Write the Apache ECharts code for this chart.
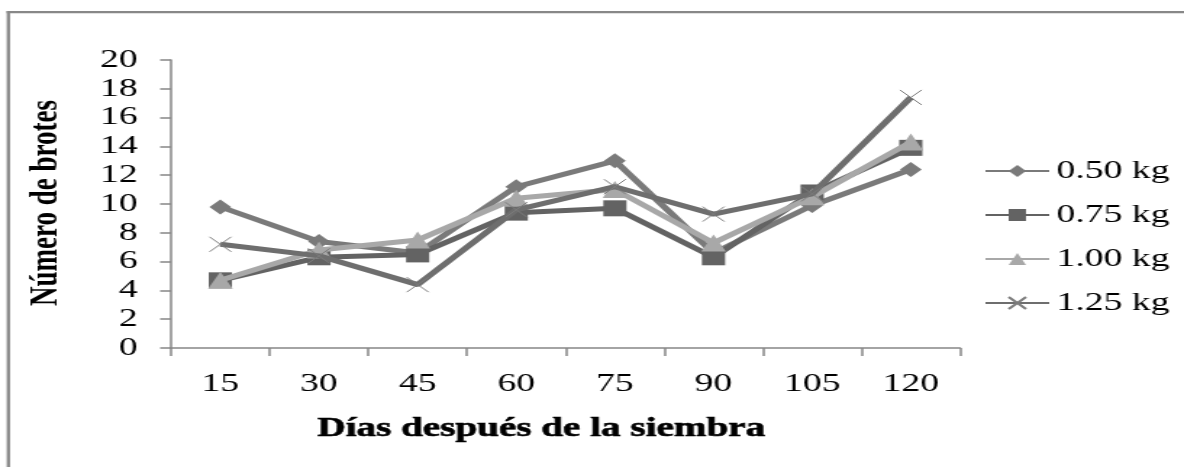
<!DOCTYPE html>
<html>
<head>
<meta charset="utf-8">
<script src="https://cdn.jsdelivr.net/npm/echarts@6/dist/echarts.min.js"></script>
<style>
html,body{margin:0;padding:0;background:#fff;overflow:hidden;}
#wrap{width:1184px;height:467px;overflow:hidden;position:relative;}
#c{width:817px;height:467px;transform:scaleX(1.4492);transform-origin:0 0;position:absolute;left:0;top:0;}
</style>
</head>
<body>
<div id="wrap"><div id="c"></div></div>
<script>
var categories = ['15', '30', '45', '60', '75', '90', '105', '120'];
var seriesNames = ['0.50 kg', '0.75 kg', '1.00 kg', '1.25 kg'];
var s050 = [9.8, 7.4, 6.6, 11.2, 13.0, 6.6, 9.9, 12.4];
var s075 = [4.7, 6.3, 6.5, 9.4, 9.7, 6.3, 10.8, 13.9];
var s100 = [4.7, 6.8, 7.5, 10.4, 11.0, 7.3, 10.5, 14.3];
var s125 = [7.2, 6.4, 4.4, 9.6, 11.2, 9.3, 10.7, 17.4];
var xTitle = 'Días después de la siembra';
var yTitle = 'Número de brotes';

var colors = ['#7a7a7a', '#636363', '#a8a8a8', '#6e6e6e'];
var symbols = ['diamond', 'rect', 'triangle', 'path://M0,0L10,10M0,10L10,0'];
var sizes = [15, 16, 17, 15];
var dataSets = [s050, s075, s100, s125];

var chart = echarts.init(document.getElementById('c'), null, {renderer: 'canvas'});
var series = dataSets.map(function (d, i) {
  var isX = i === 3;
  return {
    name: seriesNames[i],
    type: 'line',
    data: d,
    symbol: symbols[i],
    symbolSize: sizes[i],
    showAllSymbol: true,
    lineStyle: {color: colors[i], width: 5},
    itemStyle: isX ? {color: colors[i], borderColor: '#7c7c7c', borderWidth: 1} : {color: colors[i], borderWidth: 0},
    emphasis: {disabled: true},
    z: 2 + i
  };
});

var axisColor = '#868686';
chart.setOption({
  animation: false,
  backgroundColor: '#ffffff',
  grid: {left: 118, top: 60, width: 544.5, height: 288, containLabel: false},
  xAxis: {
    type: 'category',
    data: categories,
    boundaryGap: true,
    axisLine: {show: true, lineStyle: {color: axisColor, width: 1.5}},
    axisTick: {show: true, length: 8, lineStyle: {color: axisColor, width: 1.5}},
    axisLabel: {color: '#000', fontFamily: 'Liberation Serif', fontSize: 26, margin: 23},
    splitLine: {show: false}
  },
  yAxis: {
    type: 'value',
    min: 0, max: 20, interval: 2,
    axisLine: {show: true, lineStyle: {color: axisColor, width: 1.5}},
    axisTick: {show: true, length: 7.5, lineStyle: {color: axisColor, width: 1.5}},
    axisLabel: {color: '#000', fontFamily: 'Liberation Serif', fontSize: 26, margin: 23},
    splitLine: {show: false}
  },
  legend: {
    orient: 'vertical',
    left: 674,
    top: 153,
    itemWidth: 44,
    itemHeight: 15,
    itemGap: 18,
    data: seriesNames,
    textStyle: {color: '#000', fontFamily: 'Liberation Serif', fontSize: 26, lineHeight: 24}
  },
  graphic: [
    {type: 'rect', shape: {x: 4.6, y: 11, width: 2.3, height: 470}, style: {fill: '#888888'}, silent: true},
    {type: 'rect', shape: {x: 4.6, y: 11, width: 830, height: 2.3}, style: {fill: '#888888'}, silent: true},
    {type: 'text', x: 32.4, y: 203, rotation: Math.PI / 2,
     style: {text: yTitle, fill: '#000', font: 'bold 27px "Liberation Serif"', align: 'center', verticalAlign: 'middle'}, silent: true},
    {type: 'text', x: 373.5, y: 429,
     style: {text: xTitle, fill: '#000', stroke: '#000', lineWidth: 0.6, font: 'bold 27px "Liberation Serif"', align: 'center', verticalAlign: 'middle'}, silent: true}
  ],
  series: series
});
</script>
</body>
</html>
